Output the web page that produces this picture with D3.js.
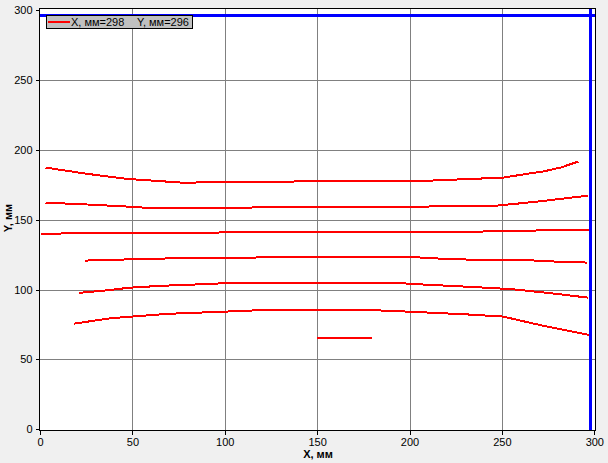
<!DOCTYPE html>
<html><head><meta charset="utf-8">
<script src="https://cdn.jsdelivr.net/npm/d3@7/dist/d3.min.js"></script>
<style>body{margin:0;background:#f0f0f0;}svg{display:block;font-family:"Liberation Sans",Arial,sans-serif;}</style>
</head><body><svg id="c" width="608" height="463"></svg>
<script>
const xTicks = [0,50,100,150,200,250,300];
const yTicks = [0,50,100,150,200,250,300];
const xTitle = "X, мм";
const yTitle = "Y, мм";
const legendX = "X, мм=298";
const legendY = "Y, мм=296";
const cursorX = 298;
const cursorY = 296;

const line1 = [[3,187.4],[25,183],[47,179.3],[77,176.6],[136,177.4],[210,178],[250.7,180.2],[263,182.8],[272,184.5],[282,187.5],[291.3,191.7]];
const line2 = [[3,162.3],[25,161],[47,159.5],[58.6,158.5],[187.6,159.2],[246,160],[260,161.8],[272.4,163.5],[285,165.5],[296.7,167.3]];
const line3 = [[0.5,140.1],[120,141.1],[239,141.6],[268,142.3],[282,143],[297,143]];
const line4 = [[24.4,120.8],[37.9,121.3],[52.3,121.8],[81.2,122.7],[140.7,123.2],[200.2,123.4],[216.5,122.2],[231.8,121.5],[263.4,121.1],[285,119.7],[295.8,119.4]];
const line5 = [[21.3,97.7],[37,99.6],[47.8,101.3],[64.9,102.7],[88.4,103.9],[102.8,104.8],[193,104.8],[208.3,103.6],[232.7,102],[249,100.8],[258,100],[278,97.2],[296.4,94.3]];
const line6 = [[18.6,75.7],[38.8,79.6],[49.6,80.7],[69.4,82.7],[97.4,84.1],[126.3,85.7],[170,85.7],[185.8,85],[202,84.1],[231.8,82.2],[250.7,80.7],[272.4,74.1],[297.2,67.6]];
const line7 = [[150,65.7],[179.8,65.7]];
const series = [line1,line2,line3,line4,line5,line6,line7];

const svg = d3.select("#c");
const x = d3.scaleLinear().domain([0,300]).range([40,594.3]);
const y = d3.scaleLinear().domain([0,300]).range([429.3,10.3]);
const L=39.5, R=595.5, T=8.5, B=430.5;

svg.append("rect").attr("x",L).attr("y",T).attr("width",R-L).attr("height",B-T).attr("fill","#fff");

// grid
const g = svg.append("g").attr("shape-rendering","crispEdges");
g.selectAll("line.vx").data(xTicks.filter(d=>d>0&&d<300)).join("line")
  .attr("x1",d=>Math.round(x(d))+0.5).attr("x2",d=>Math.round(x(d))+0.5).attr("y1",T).attr("y2",B)
  .attr("stroke","#808080").attr("stroke-width",1);
g.selectAll("line.hy").data(yTicks.filter(d=>d>0&&d<300)).join("line")
  .attr("y1",d=>Math.round(y(d))+0.5).attr("y2",d=>Math.round(y(d))+0.5).attr("x1",L).attr("x2",R)
  .attr("stroke","#808080").attr("stroke-width",1);

// series
const lineGen = d3.line().x(d=>x(d[0])).y(d=>y(d[1]));
svg.append("g").selectAll("path").data(series).join("path")
  .attr("d",lineGen).attr("fill","none").attr("stroke","#ff0000").attr("stroke-width",2)
  .attr("shape-rendering","crispEdges");

// cursors
svg.append("line").attr("x1",x(cursorX)).attr("x2",x(cursorX)).attr("y1",T).attr("y2",B)
  .attr("stroke","#0000ff").attr("stroke-width",3).attr("shape-rendering","crispEdges");
svg.append("line").attr("y1",y(cursorY)).attr("y2",y(cursorY)).attr("x1",L).attr("x2",R)
  .attr("stroke","#0000ff").attr("stroke-width",3).attr("shape-rendering","crispEdges");

// frame
svg.append("rect").attr("x",L).attr("y",T).attr("width",R-L).attr("height",B-T)
  .attr("fill","none").attr("stroke","#000").attr("stroke-width",1).attr("shape-rendering","crispEdges");

// axes
const xa = svg.append("g").attr("transform",`translate(0,${B})`)
  .call(d3.axisBottom(x).tickValues(xTicks).tickSize(4).tickSizeOuter(0));
const ya = svg.append("g").attr("transform",`translate(${L},0)`)
  .call(d3.axisLeft(y).tickValues(yTicks).tickSize(4).tickSizeOuter(0));
[xa,ya].forEach(a=>{
  a.select(".domain").remove();
  a.selectAll(".tick line").attr("stroke","#000").attr("shape-rendering","crispEdges");
  a.selectAll(".tick text").attr("font-size",11).attr("fill","#000").attr("font-family","Liberation Sans, Arial, sans-serif");
});
xa.selectAll(".tick text").attr("dy","0.71em").attr("y",8);
ya.selectAll(".tick text").attr("x",-7);

svg.append("text").attr("x",318).attr("y",458).attr("text-anchor","middle")
  .attr("font-size",11).attr("font-weight","bold").text(xTitle);
svg.append("text").attr("transform","translate(12,218) rotate(-90)").attr("text-anchor","middle")
  .attr("font-size",11).attr("font-weight","bold").text(yTitle);

// legend
const lg = svg.append("g");
lg.append("rect").attr("x",46.5).attr("y",15.5).attr("width",146).attr("height",13)
  .attr("fill","#c0c0c0").attr("stroke","#000").attr("stroke-width",1).attr("shape-rendering","crispEdges");
lg.append("line").attr("x1",48).attr("x2",70).attr("y1",22).attr("y2",22)
  .attr("stroke","#ff0000").attr("stroke-width",2).attr("shape-rendering","crispEdges");
lg.append("text").attr("x",71).attr("y",26).attr("font-size",11).text(legendX);
lg.append("text").attr("x",137).attr("y",26).attr("font-size",11).text(legendY);
</script></body></html>
